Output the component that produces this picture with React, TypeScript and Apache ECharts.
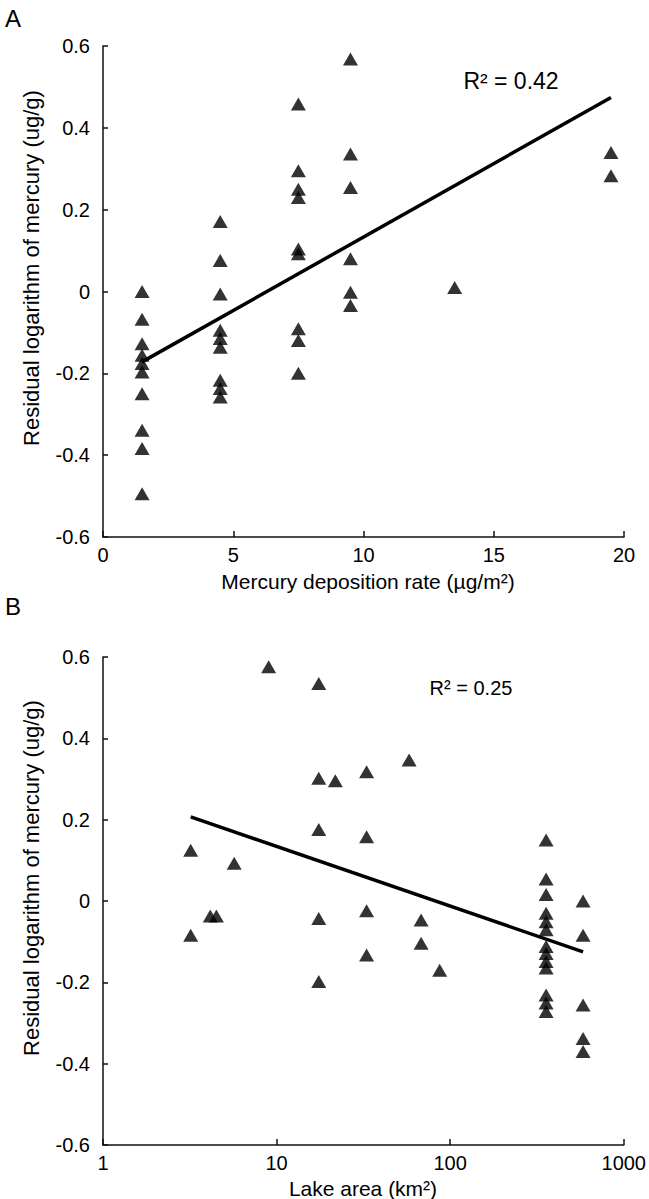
import React, { useEffect, useRef } from "react";
import * as echarts from "echarts";

// Panel A: mercury deposition rate (µg/m²) vs residual log mercury (ug/g)
const depositionRate = [
  1.5, 1.5, 1.5, 1.5, 1.5, 1.5, 1.5, 1.5, 1.5, 1.5,
  4.5, 4.5, 4.5, 4.5, 4.5, 4.5, 4.5, 4.5, 4.5,
  7.5, 7.5, 7.5, 7.5, 7.5, 7.5, 7.5, 7.5, 7.5,
  9.5, 9.5, 9.5, 9.5, 9.5, 9.5,
  13.5,
  19.5, 19.5,
];
const residualA = [
  0.0, -0.068, -0.128, -0.156, -0.176, -0.197, -0.25, -0.339, -0.384, -0.494,
  0.171, 0.076, -0.006, -0.095, -0.115, -0.136, -0.217, -0.237, -0.258,
  0.458, 0.295, 0.25, 0.23, 0.104, 0.092, -0.091, -0.12, -0.2,
  0.568, 0.336, 0.254, 0.08, -0.002, -0.034,
  0.01,
  0.34, 0.283,
];
const trendA_x = [1.5, 19.5];
const trendA_y = [-0.172, 0.474];

// Panel B: lake area (km²) vs residual log mercury (ug/g)
const lakeArea = [
  9.0, 17.5, 17.5, 21.8, 33, 58, 17.5, 33, 3.2, 5.7,
  3.2, 4.15, 4.5, 17.5, 17.5, 33, 33, 68, 68, 87,
  357, 357, 357, 357, 357, 357, 357, 357, 357, 357, 357, 357, 357,
  583, 583, 583, 583, 583,
];
const residualB = [
  0.576, 0.535, 0.302, 0.296, 0.318, 0.347, 0.176, 0.158, 0.125, 0.093,
  -0.084, -0.037, -0.037, -0.043, -0.198, -0.024, -0.133, -0.047, -0.104, -0.17,
  0.15, 0.054, 0.016, -0.03, -0.051, -0.071, -0.112, -0.129, -0.149, -0.165, -0.231, -0.251, -0.272,
  0.0, -0.084, -0.256, -0.338, -0.37,
];
const trendB_x = [3.2, 583];
const trendB_y = [0.207, -0.125];

const yTicksMin = -0.6;
const yTicksMax = 0.6;
const yTickStep = 0.2;

const FONT = "Arial, 'Liberation Sans', sans-serif";
const INK = "#000";

export default function App() {
  const ref = useRef<HTMLDivElement>(null);
  useEffect(() => {
    if (!ref.current) return;
    const chart = echarts.init(ref.current, undefined, { renderer: "svg" });

    const axisLine = { show: true, onZero: false, lineStyle: { color: "#111", width: 1.5 } };

    const yAxisCommon = (gridIndex: number) => ({
      type: "value",
      gridIndex,
      min: yTicksMin,
      max: yTicksMax,
      interval: yTickStep,
      axisLine,
      axisTick: { show: true, inside: true, length: 5, lineStyle: { color: "#111", width: 1.5 } },
      splitLine: { show: false },
      axisLabel: {
        margin: 13,
        fontSize: 20,
        fontFamily: FONT,
        color: INK,
        formatter: (v: number) => (Math.abs(v) < 1e-9 ? "0" : v.toFixed(1)),
      },
    });

    const xLabel = {
      margin: 8,
      fontSize: 20,
      fontFamily: FONT,
      color: INK,
      formatter: (v: number) => String(Math.round(v)),
    };

    const ptsA = depositionRate.map((x, i) => [x, residualA[i]]);
    const ptsB = lakeArea.map((x, i) => [x, residualB[i]]);
    const lineA = trendA_x.map((x, i) => [x, trendA_y[i]]);
    const lineB = trendB_x.map((x, i) => [x, trendB_y[i]]);

    const text = (t: string, x: number, y: number, size: number, align = "center", rotation = 0) => ({
      type: "text",
      x,
      y,
      rotation,
      silent: true,
      style: {
        text: t,
        fontSize: size,
        fontFamily: FONT,
        fill: INK,
        textAlign: align,
        align,
        textVerticalAlign: "middle",
        verticalAlign: "middle",
      },
    });

    chart.setOption({
      animation: false,
      backgroundColor: "#fff",
      grid: [
        { left: 103, top: 46, width: 521, height: 491 },
        { left: 103, top: 657, width: 521, height: 488 },
      ],
      xAxis: [
        {
          type: "value",
          gridIndex: 0,
          min: 0,
          max: 20,
          interval: 5,
          axisLine,
          axisTick: { show: true, inside: true, length: 6, lineStyle: { color: "#111", width: 1.5 } },
          splitLine: { show: false },
          axisLabel: xLabel,
        },
        {
          type: "log",
          logBase: 10,
          gridIndex: 1,
          min: 1,
          max: 1000,
          axisLine,
          axisTick: { show: true, inside: true, length: 6, lineStyle: { color: "#111", width: 1.5 } },
          minorTick: { show: false },
          splitLine: { show: false },
          axisLabel: xLabel,
        },
      ],
      yAxis: [yAxisCommon(0), yAxisCommon(1)],
      series: [
        {
          type: "scatter",
          xAxisIndex: 0,
          yAxisIndex: 0,
          symbol: "triangle",
          symbolSize: [15, 13],
          itemStyle: { color: "#000" },
          data: ptsA,
          z: 3,
        },
        {
          type: "line",
          xAxisIndex: 0,
          yAxisIndex: 0,
          data: lineA,
          symbol: "none",
          lineStyle: { color: "#000", width: 3.5 },
          z: 2,
        },
        {
          type: "scatter",
          xAxisIndex: 1,
          yAxisIndex: 1,
          symbol: "triangle",
          symbolSize: [15, 13],
          itemStyle: { color: "#000" },
          data: ptsB,
          z: 3,
        },
        {
          type: "line",
          xAxisIndex: 1,
          yAxisIndex: 1,
          data: lineB,
          symbol: "none",
          lineStyle: { color: "#000", width: 3.5 },
          z: 2,
        },
      ],
      graphic: [
        text("A", 5, 18, 24, "left"),
        text("B", 5, 606, 24, "left"),
        text("R² = 0.42", 511, 81, 23),
        text("R² = 0.25", 471, 688, 20),
        text("Residual logarithm of mercury (ug/g)", 31, 268, 22, "center", Math.PI / 2),
        text("Residual logarithm of mercury (ug/g)", 31, 878, 22, "center", Math.PI / 2),
        text("Mercury deposition rate (µg/m²)", 368, 581, 21),
        text("Lake area (km²)", 363, 1188, 21),
      ],
    });
    return () => chart.dispose();
  }, []);
  return (
    <div
      ref={ref}
      style={{ position: "absolute", left: 0, top: 0, width: 649, height: 1199, background: "#fff" }}
    />
  );
}
